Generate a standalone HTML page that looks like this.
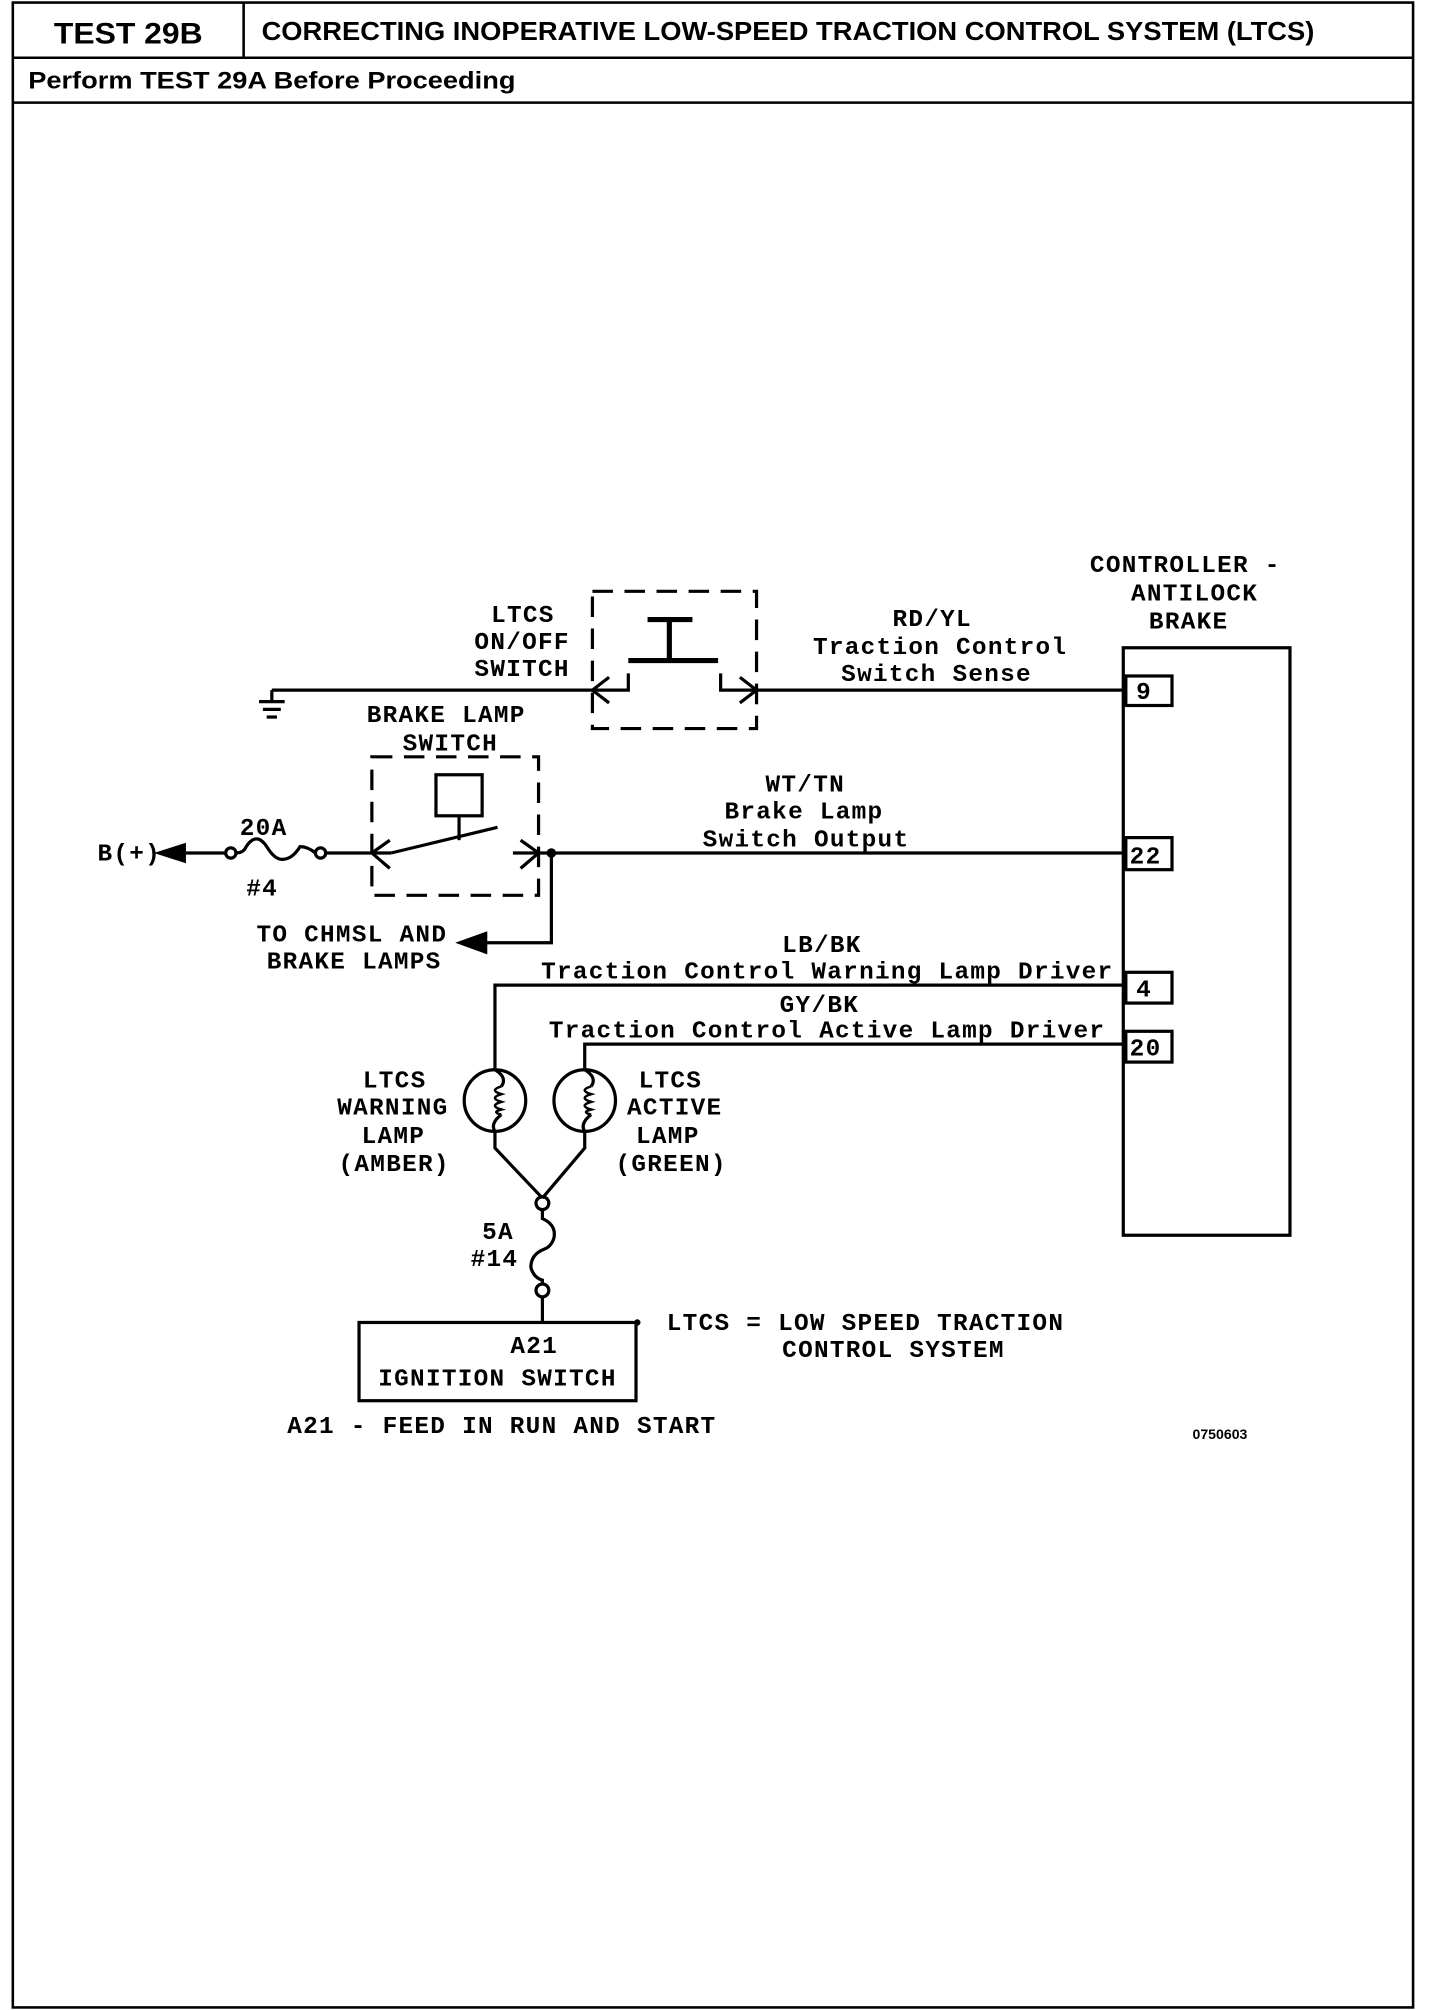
<!DOCTYPE html>
<html><head><meta charset="utf-8"><style>
html,body{margin:0;padding:0;background:#fff;}
svg{display:block;}
.h{font-family:"Liberation Sans",sans-serif;font-weight:bold;}
.m{font-family:"Liberation Mono",monospace;font-weight:bold;font-size:19px;letter-spacing:1px;}
</style></head><body>
<svg width="1440" height="2010" viewBox="0 0 1123 1567" preserveAspectRatio="none" xmlns="http://www.w3.org/2000/svg">
<g fill="none" stroke="#000" stroke-width="2">
<rect x="10" y="2" width="1092" height="1563"/>
<line x1="10" y1="45" x2="1102" y2="45"/>
<line x1="190" y1="2" x2="190" y2="45"/>
<line x1="10" y1="80" x2="1102" y2="80"/>
</g>
<text x="42" y="34" class="h" font-size="23" textLength="116" lengthAdjust="spacingAndGlyphs">TEST 29B</text>
<text x="204" y="31" class="h" font-size="20" textLength="821" lengthAdjust="spacingAndGlyphs">CORRECTING INOPERATIVE LOW-SPEED TRACTION CONTROL SYSTEM (LTCS)</text>
<text x="22" y="69" class="h" font-size="19" textLength="380" lengthAdjust="spacingAndGlyphs">Perform TEST 29A Before Proceeding</text>

<g fill="none" stroke="#000" stroke-width="2.5">
<line x1="212" y1="538" x2="462" y2="538"/>
<line x1="212" y1="538" x2="212" y2="546"/>
<line x1="202" y1="547" x2="222" y2="547"/>
<line x1="205" y1="553" x2="219" y2="553"/>
<line x1="208" y1="559" x2="216" y2="559"/>
<rect x="462" y="461" width="128" height="107" stroke-dasharray="16,9"/>
<line x1="505" y1="483" x2="540" y2="483" stroke-width="4"/>
<line x1="522" y1="483" x2="522" y2="515" stroke-width="4"/>
<line x1="490" y1="515" x2="560" y2="515" stroke-width="4"/>
<path d="M475 528 L462 538 L475 548"/>
<path d="M577 528 L590 538 L577 548"/>
<path d="M490 525 L490 538 L462 538"/>
<path d="M562 525 L562 538 L590 538"/>
<line x1="590" y1="538" x2="876" y2="538"/>
<rect x="876" y="505" width="130" height="458"/>
<rect x="878" y="527" width="36" height="23"/>
<rect x="878" y="653" width="36" height="25"/>
<rect x="878" y="758" width="36" height="24"/>
<rect x="878" y="804" width="36" height="24"/>
<rect x="290" y="590" width="130" height="108" stroke-dasharray="16,9"/>
<rect x="340" y="604" width="36" height="32"/>
<line x1="358" y1="636" x2="358" y2="655"/>
<path d="M304 655 L290 665 L304 677"/>
<path d="M406 655 L420 665 L406 677"/>
<line x1="290" y1="665" x2="305" y2="665"/>
<line x1="305" y1="665" x2="388" y2="645"/>
<line x1="400" y1="665" x2="420" y2="665"/>
<line x1="140" y1="665" x2="176" y2="665"/>
<circle cx="180" cy="665" r="4"/>
<path d="M184 665 Q190 665 192 660 Q200 648 208 660 Q214 670 220 670 Q228 670 234 660 Q240 660 246 665"/>
<circle cx="250" cy="665" r="4"/>
<line x1="254" y1="665" x2="290" y2="665"/>
<line x1="420" y1="665" x2="876" y2="665"/>
<circle cx="430" cy="665" r="2.5" fill="#000"/>
<path d="M430 665 L430 735 L365 735"/>
<path d="M876 768 L386 768 L386 834"/>
<path d="M876 814 L456 814 L456 834"/>
<circle cx="386" cy="858" r="24"/>
<circle cx="456" cy="858" r="24"/>
<path d="M386 834 Q396 840 391 847 M391 869 Q382 876 386 882"/>
<path d="M456 834 Q466 840 461 847 M461 869 Q452 876 456 882"/>
<path d="M391 847 q-10 3 0 6 q-10 3 0 6 q-10 3 0 6 q-8 2 0 4" stroke-width="2"/>
<path d="M461 847 q-10 3 0 6 q-10 3 0 6 q-10 3 0 6 q-8 2 0 4" stroke-width="2"/>
<path d="M386 882 L386 895 L423 934"/>
<path d="M456 882 L456 895 L423 934"/>
<circle cx="423" cy="938" r="5"/>
<path d="M423 943 L423 950 Q434 955 432 965 Q430 972 424 974 Q414 978 414 988 Q416 996 423 998 L423 1001"/>
<circle cx="423" cy="1006" r="5"/>
<line x1="423" y1="1011" x2="423" y2="1031"/>
<rect x="280" y="1031" width="216" height="61"/>
</g>
<g fill="#000">
<polygon points="120,665 145,657 145,673"/>
<polygon points="355,735 380,726 380,744"/>
<circle cx="497" cy="1031" r="2.5"/>
</g>
<g class="m" fill="#000">
<text x="850" y="446">CONTROLLER -</text>
<text x="882" y="468">ANTILOCK</text>
<text x="896" y="490">BRAKE</text>
<text x="383" y="485">LTCS</text>
<text x="370" y="506">ON/OFF</text>
<text x="370" y="527">SWITCH</text>
<text x="696" y="488">RD/YL</text>
<text x="634" y="510">Traction Control</text>
<text x="656" y="531">Switch Sense</text>
<text x="286" y="563">BRAKE LAMP</text>
<text x="314" y="585">SWITCH</text>
<text x="597" y="617">WT/TN</text>
<text x="565" y="638">Brake Lamp</text>
<text x="548" y="660">Switch Output</text>
<text x="187" y="651">20A</text>
<text x="192" y="698">#4</text>
<text x="76" y="671">B(+)</text>
<text x="200" y="734">TO CHMSL AND</text>
<text x="208" y="755">BRAKE LAMPS</text>
<text x="610" y="742">LB/BK</text>
<text x="422" y="763">Traction Control Warning Lamp Driver</text>
<text x="608" y="789">GY/BK</text>
<text x="428" y="809">Traction Control Active Lamp Driver</text>
<text x="886" y="545">9</text>
<text x="881" y="673">22</text>
<text x="886" y="777">4</text>
<text x="881" y="823">20</text>
<text x="283" y="848">LTCS</text>
<text x="263" y="869">WARNING</text>
<text x="282" y="891">LAMP</text>
<text x="264" y="913">(AMBER)</text>
<text x="498" y="848">LTCS</text>
<text x="489" y="869">ACTIVE</text>
<text x="496" y="891">LAMP</text>
<text x="480" y="913">(GREEN)</text>
<text x="376" y="966">5A</text>
<text x="367" y="987">#14</text>
<text x="398" y="1055">A21</text>
<text x="295" y="1080">IGNITION SWITCH</text>
<text x="520" y="1037">LTCS = LOW SPEED TRACTION</text>
<text x="610" y="1058">CONTROL SYSTEM</text>
<text x="224" y="1117">A21 - FEED IN RUN AND START</text>
</g>
<text x="930" y="1122" font-family="Liberation Sans,sans-serif" font-size="11" font-weight="bold">0750603</text>
</svg>
</body></html>
